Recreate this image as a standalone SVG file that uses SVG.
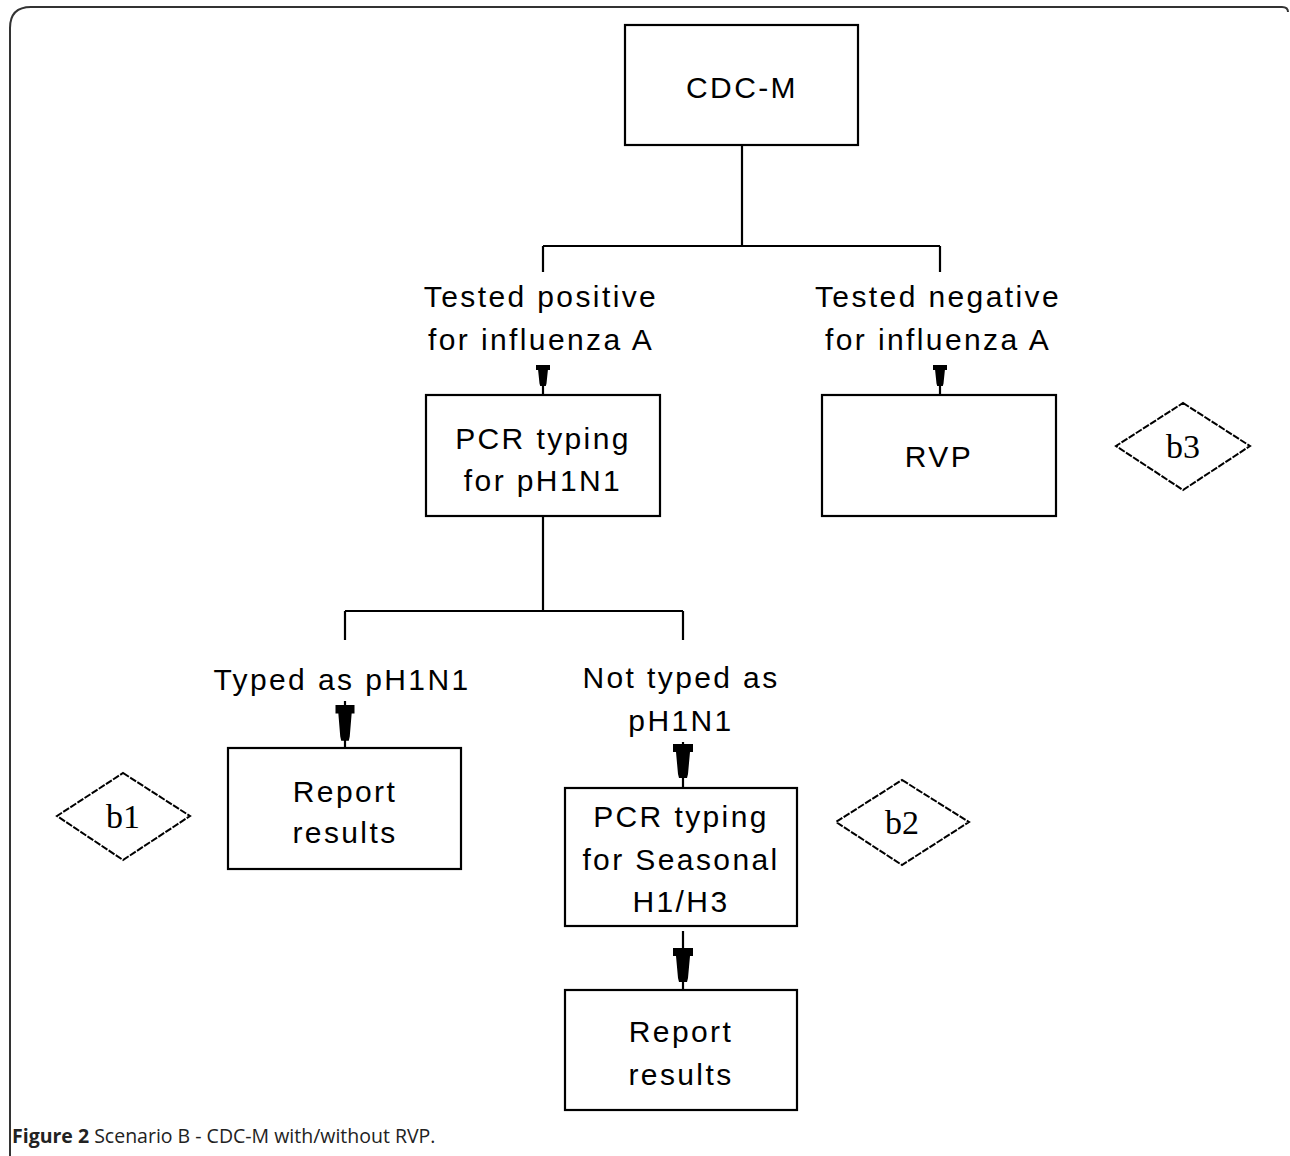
<svg xmlns="http://www.w3.org/2000/svg" width="1290" height="1156" viewBox="0 0 1290 1156">
<style>
.box{fill:#fff;stroke:#000;stroke-width:2.2}
.ln{fill:none;stroke:#000;stroke-width:2.2}
.t{font-family:"Liberation Sans",Arial,sans-serif;font-size:30px;letter-spacing:2.4px;fill:#000;text-anchor:middle}
.dm{fill:#fff;stroke:#000;stroke-width:2;stroke-dasharray:7 1.5}
.dt{font-family:"Liberation Serif","Times New Roman",serif;font-size:34px;fill:#000;text-anchor:middle}
.cap{font-family:"Open Sans","Noto Sans",sans-serif;font-size:19.5px;fill:#222}
</style>
<defs>
<path id="ah" d="M-10,0 H10 V8 H7 L5,30 L4,34 H-4 L-5,30 L-7,8 H-10 Z" fill="#000"/>
</defs>
<path d="M10,1156 V28 Q10,7 31,7 H1282 Q1288,7 1288,12" fill="none" stroke="#333" stroke-width="2"/>
<g id="connectors">
<path class="ln" d="M742,145 V246 M543,246 H940 M543,246 V272 M940,246 V272"/>
<path class="ln" d="M543,385 V395 M940,385 V395"/>
<use href="#ah" transform="translate(543,365) scale(0.7,0.62)"/>
<use href="#ah" transform="translate(940,365) scale(0.7,0.62)"/>
<path class="ln" d="M543,516 V611 M345,611 H683 M345,611 V640 M683,611 V640"/>
<path class="ln" d="M345,701 V748"/>
<use href="#ah" transform="translate(345,705) scale(0.95,1.05)"/>
<path class="ln" d="M683,742 V788"/>
<use href="#ah" transform="translate(683,744) scale(1,1)"/>
<path class="ln" d="M683,931 V990"/>
<use href="#ah" transform="translate(683,948) scale(1,1)"/>
</g>
<g id="cdcm"><rect class="box" x="625" y="25" width="233" height="120"/><text class="t" x="742" y="98">CDC-M</text></g>
<g id="label-pos"><text class="t" x="541" y="307">Tested positive</text><text class="t" x="541" y="350">for influenza A</text></g>
<g id="label-neg"><text class="t" x="938" y="307">Tested negative</text><text class="t" x="938" y="350">for influenza A</text></g>
<g id="pcr1"><rect class="box" x="426" y="395" width="234" height="121"/><text class="t" x="543" y="449">PCR typing</text><text class="t" x="543" y="491">for pH1N1</text></g>
<g id="rvp"><rect class="box" x="822" y="395" width="234" height="121"/><text class="t" x="939" y="467">RVP</text></g>
<g id="b3"><polygon class="dm" points="1183,403 1250,446 1183,490 1116,446"/><text class="dt" x="1183" y="458">b3</text></g>
<g id="label-typed"><text class="t" x="342" y="690">Typed as pH1N1</text></g>
<g id="label-nottyped"><text class="t" x="681" y="688">Not typed as</text><text class="t" x="681" y="731">pH1N1</text></g>
<g id="report1"><rect class="box" x="228" y="748" width="233" height="121"/><text class="t" x="345" y="802">Report</text><text class="t" x="345" y="843">results</text></g>
<g id="b1"><polygon class="dm" points="123,773 190,816 123,860 57,816"/><text class="dt" x="123" y="828">b1</text></g>
<g id="pcr2"><rect class="box" x="565" y="788" width="232" height="138"/><text class="t" x="681" y="827">PCR typing</text><text class="t" x="681" y="870">for Seasonal</text><text class="t" x="681" y="912">H1/H3</text></g>
<g id="b2"><polygon class="dm" points="902,780 969,822 902,865 836,822"/><text class="dt" x="902" y="834">b2</text></g>
<g id="report2"><rect class="box" x="565" y="990" width="232" height="120"/><text class="t" x="681" y="1042">Report</text><text class="t" x="681" y="1085">results</text></g>
<text class="cap" x="12" y="1143"><tspan font-weight="bold">Figure 2</tspan> Scenario B - CDC-M with/without RVP.</text>
</svg>
